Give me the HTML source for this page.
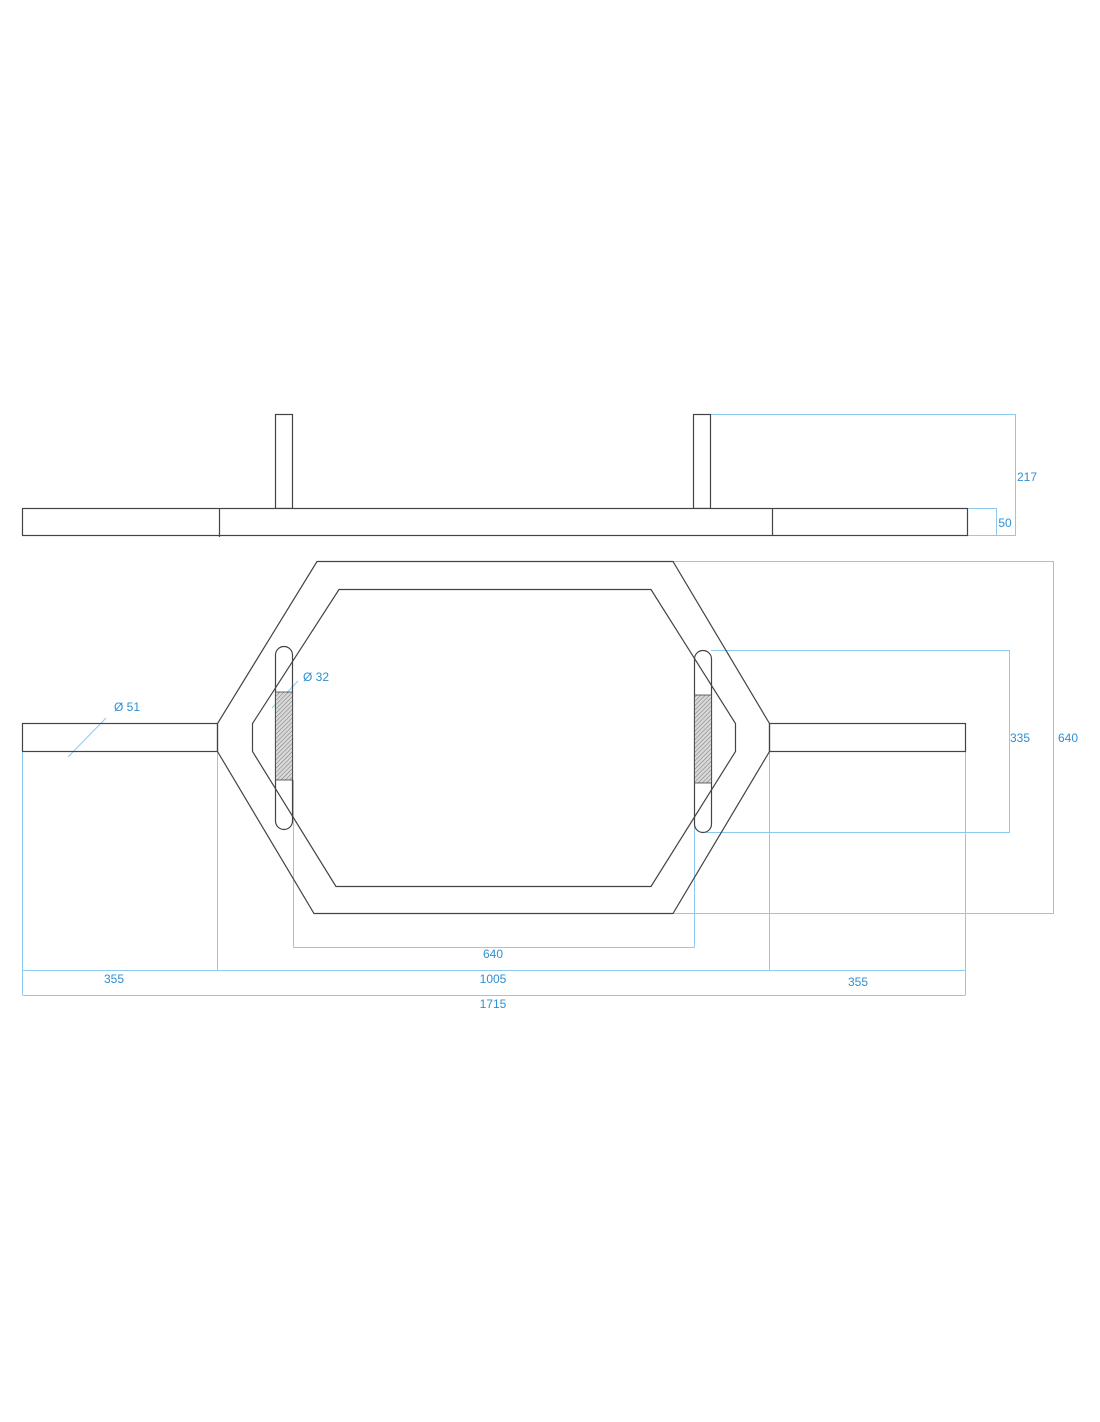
<!DOCTYPE html>
<html><head><meta charset="utf-8"><style>html,body{margin:0;padding:0;background:#fff}svg{display:block}</style></head>
<body>
<svg width="1100" height="1422" viewBox="0 0 1100 1422" xmlns="http://www.w3.org/2000/svg">
<defs>
<pattern id="h" width="3" height="3" patternUnits="userSpaceOnUse" patternTransform="rotate(45)">
<rect width="3" height="3" fill="#d8d8d8"/><line x1="0" y1="0" x2="0" y2="3" stroke="#777" stroke-width="1"/>
</pattern>
</defs>
<g fill="none" stroke="#8ccbed" stroke-width="1">
<!-- top dims -->
<polyline points="710,414.5 1015.5,414.5 1015.5,535.5 967,535.5"/>
<polyline points="967,508.5 996.5,508.5 996.5,535.5"/>
<!-- 640 outer -->
<polyline points="673,561.5 1053.5,561.5 1053.5,913.5 673,913.5"/>
<!-- 335 -->
<polyline points="711,650.5 1009.5,650.5 1009.5,832.5 706,832.5"/>
<!-- bottom dims -->
<line x1="22.5" y1="751" x2="22.5" y2="995"/>
<line x1="217.5" y1="751" x2="217.5" y2="970"/>
<line x1="769.5" y1="751" x2="769.5" y2="970"/>
<line x1="965.5" y1="751" x2="965.5" y2="995"/>
<line x1="293.5" y1="780" x2="293.5" y2="947.5"/>
<line x1="694.5" y1="783" x2="694.5" y2="947.5"/>
<line x1="293.5" y1="947.5" x2="694.5" y2="947.5"/>
<line x1="22.5" y1="970.5" x2="965.5" y2="970.5"/>
<line x1="22.5" y1="995.5" x2="965.5" y2="995.5"/>
<line x1="68" y1="757" x2="106" y2="718"/>
<line x1="272" y1="708" x2="298" y2="681"/>
</g>
<g fill="none" stroke="#444" stroke-width="1.2">
<!-- top view -->
<rect x="275.5" y="414.5" width="17" height="94"/>
<rect x="693.5" y="414.5" width="17" height="94"/>
<rect x="22.5" y="508.5" width="945" height="27" fill="#fff"/>
<line x1="219.5" y1="508" x2="219.5" y2="537"/>
<line x1="772.5" y1="508" x2="772.5" y2="536"/>
<!-- plan view -->
<rect x="22.5" y="723.5" width="195" height="28"/>
<rect x="769.5" y="723.5" width="196" height="28"/>
<polygon points="317,561.5 673,561.5 769.5,723.5 769.5,751.5 673,913.5 314,913.5 217.5,751.5 217.5,723.5"/>
<polygon points="339,589.5 651,589.5 735.5,723.5 735.5,751.5 651,886.5 336,886.5 252.5,751.5 252.5,723.5"/>
<rect x="275.5" y="646.5" width="17" height="183" rx="8.5"/>
<rect x="694.5" y="650.5" width="17" height="182" rx="8.5"/>
</g>
<rect x="275.5" y="692" width="17" height="88" fill="url(#h)" stroke="#444" stroke-width="0.8"/>
<rect x="694.5" y="695" width="17" height="88" fill="url(#h)" stroke="#444" stroke-width="0.8"/>
<g fill="#2e90d1" font-family="Liberation Sans, sans-serif" font-size="12" text-anchor="middle">
<text x="1027" y="481">217</text>
<text x="1005" y="527">50</text>
<text x="1020" y="742">335</text>
<text x="1068" y="742">640</text>
<text x="127" y="711">Ø 51</text>
<text x="316" y="681">Ø 32</text>
<text x="493" y="958">640</text>
<text x="114" y="983">355</text>
<text x="493" y="983">1005</text>
<text x="858" y="986">355</text>
<text x="493" y="1008">1715</text>
</g>
</svg>
</body></html>
